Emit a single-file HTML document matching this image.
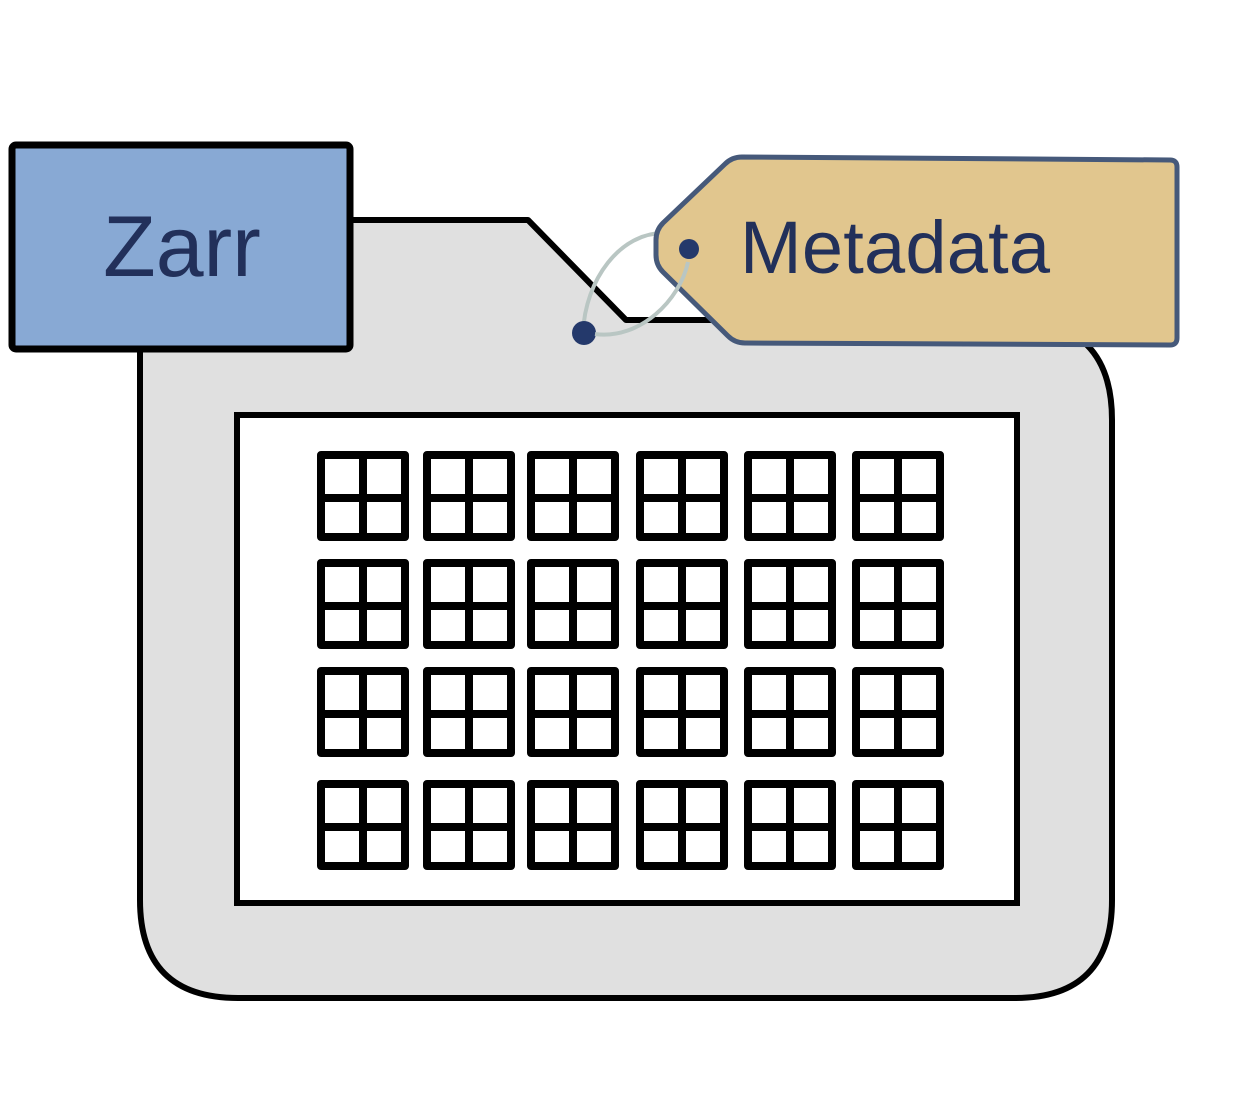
<!DOCTYPE html>
<html><head><meta charset="utf-8"><style>html,body{margin:0;padding:0;background:#fff}svg{display:block}</style></head>
<body>
<svg id="s" width="1237" height="1120" viewBox="0 0 1237 1120">
<path d="M140,350 L140,900 Q140,998 238,998 L1015,998 Q1112,998 1112,900 L1112,420 Q1112,320 1012,320 L626,320 L528,220 L350,220" fill="#e0e0e0" stroke="#000" stroke-width="6" stroke-linejoin="round"/>
<rect x="237" y="415" width="780" height="488" fill="#fff" stroke="#000" stroke-width="6"/>
<g id="grid"></g>
<path d="M583,333 C585,280 620,232 665,233" fill="none" stroke="#b9c6c3" stroke-width="4"/>
<circle cx="584" cy="333" r="12" fill="#24396b"/>
<path d="M742,157 L1170,160 Q1177,160 1177,167 L1177,338 Q1177,345 1170,345 L745,343 Q735,343 728,336 L663,272 Q656,265 656,255 L656,240 Q656,230 663,223 L725,164 Q732,157 742,157 Z" fill="#e1c68e" stroke="#46597a" stroke-width="5"/>
<circle cx="689" cy="249" r="10" fill="#24396b"/>
<path d="M688,262 C680,300 640,340 595,334" fill="none" stroke="#b9c6c3" stroke-width="4"/>
<text x="740" y="273" font-family="Liberation Sans, sans-serif" font-size="74" textLength="310" fill="#22305a">Metadata</text>
<rect x="12" y="145" width="338" height="204" rx="4" fill="#88a9d4" stroke="#000" stroke-width="7"/>
<text x="182" y="276" text-anchor="middle" font-family="Liberation Sans, sans-serif" font-size="86" fill="#22305a">Zarr</text>
</svg>
<script>
const colLefts=[321,427,531,640,748,856];
const rowTops=[455,563,671,784];
const g=document.getElementById('grid');
const NS='http://www.w3.org/2000/svg';
rowTops.forEach((y,r)=>colLefts.forEach((x,c)=>{
  const el=document.createElementNS(NS,'path');
  
  
  const w=84,h=82;
  el.setAttribute('d',`M${x},${y}h${w}v${h}h${-w}z M${x+w/2},${y}v${h} M${x},${y+h/2+2}h${w}`);
  el.setAttribute('fill','none');el.setAttribute('stroke','#000');el.setAttribute('stroke-width','8');el.setAttribute('stroke-linejoin','round');
  g.appendChild(el);
}));
</script>
</body></html>
